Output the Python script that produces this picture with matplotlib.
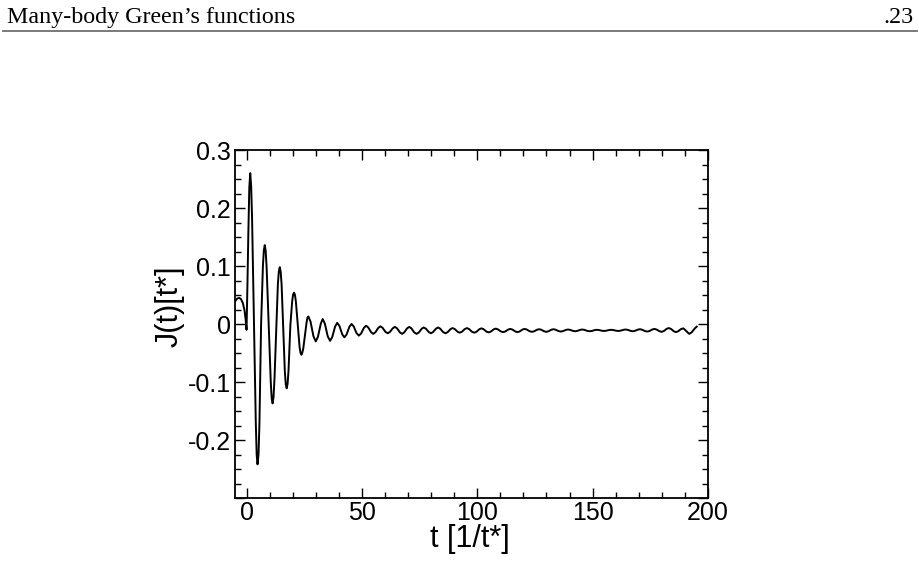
import matplotlib
matplotlib.use("Agg")
import matplotlib.pyplot as plt
from matplotlib.lines import Line2D
from matplotlib.ticker import MultipleLocator, FixedLocator, FixedFormatter

# ---- data ----
# switch-on region: t < 26 (read point by point)
t_early = [-4.8, -4.0, -3.2, -2.4, -1.6, -0.9, -0.4, 0.0,
           0.4, 0.8, 1.2, 1.6, 2.0, 2.4, 3.2, 4.0, 4.4, 4.76, 5.2, 5.6,
           6.3, 7.1, 7.5, 7.9, 8.3, 8.7, 9.6, 10.5, 10.9, 11.3, 11.7, 12.1,
           12.9, 13.6, 14.0, 14.4, 14.8, 15.2, 15.9, 16.6, 17.0, 17.4, 17.8, 18.2,
           19.0, 19.8, 20.2, 20.6, 21.0, 21.4, 22.2, 23.0, 23.4, 23.8, 24.2, 24.6,
           25.3, 26.0, 26.4]
j_early = [0.040, 0.044, 0.045, 0.043, 0.036, 0.024, 0.008, -0.010,
           0.070, 0.160, 0.235, 0.260, 0.238, 0.182, 0.008, -0.168, -0.226, -0.242, -0.225, -0.170,
           -0.002, 0.100, 0.127, 0.136, 0.126, 0.098, 0.000, -0.100, -0.128, -0.137, -0.126, -0.096,
           -0.005, 0.070, 0.091, 0.098, 0.090, 0.068, -0.006, -0.082, -0.104, -0.111, -0.103, -0.080,
           -0.002, 0.040, 0.051, 0.054, 0.050, 0.038, 0.000, -0.040, -0.050, -0.053, -0.049, -0.042,
           -0.020, 0.002, 0.011]

# decaying tail: extrema with the shoulder points between them
t_tail = [26.8, 27.74, 28.99, 30.0, 30.94, 32.19, 33.0, 33.94, 35.19, 36.2, 37.14, 38.39,
          39.3, 40.24, 41.49, 42.4, 43.34, 44.59, 45.5, 46.44, 47.69, 48.7, 49.64, 50.89,
          51.8, 52.74, 53.99, 54.9, 55.84, 57.09, 58.0, 58.94, 60.19, 61.2, 62.14, 63.39,
          64.3, 65.24, 66.49, 67.4, 68.34, 69.59, 70.5, 71.44, 72.69, 73.7, 74.64, 75.89,
          76.8, 77.74, 78.99, 79.9, 80.84, 82.09, 83.0, 83.94, 85.19, 86.2, 87.14, 88.39,
          89.3, 90.24, 91.49, 92.4, 93.34, 94.59, 95.5, 96.44, 97.69, 98.7, 99.64, 100.89,
          101.8, 102.74, 103.99, 104.9, 105.84, 107.09, 108.0, 108.94, 110.19, 111.2, 112.14, 113.39,
          114.3, 115.24, 116.49, 117.4, 118.34, 119.59, 120.5, 121.44, 122.69, 123.7, 124.64, 125.89,
          126.8, 127.74, 128.99, 129.9, 130.84, 132.09, 133.0, 133.94, 135.19, 136.2, 137.14, 138.39,
          139.3, 140.24, 141.49, 142.4, 143.34, 144.59, 145.5, 146.44, 147.69, 148.7, 149.64, 150.89,
          151.8, 152.74, 153.99, 154.9, 155.84, 157.09, 158.0, 158.94, 160.19, 161.2, 162.14, 163.39,
          164.3, 165.24, 166.49, 167.4, 168.34, 169.59, 170.5, 171.44, 172.69, 173.7, 174.64, 175.89,
          176.8, 177.74, 178.99, 179.9, 180.84, 182.09, 183.0, 183.94, 185.19, 186.1, 187.04, 188.29,
          189.3, 189.9, 191.3, 191.9, 192.9, 194.3, 195.1]
j_tail = [0.013, 0.0041, -0.0211, -0.030, -0.0221, 0.0006, 0.0085, 0.0007, -0.0213, -0.029, -0.0226, -0.0044,
          0.002, -0.0032, -0.0179, -0.023, -0.0183, -0.0047, 0.000, -0.0041, -0.0159, -0.020, -0.0165, -0.0065,
          -0.003, -0.0059, -0.0141, -0.017, -0.0143, -0.0067, -0.004, -0.0065, -0.0135, -0.016, -0.0137, -0.0073,
          -0.005, -0.0075, -0.0145, -0.017, -0.0145, -0.0075, -0.005, -0.0075, -0.0145, -0.017, -0.0147, -0.0083,
          -0.006, -0.0081, -0.0139, -0.016, -0.0139, -0.0081, -0.006, -0.0081, -0.0139, -0.016, -0.0141, -0.0089,
          -0.007, -0.0087, -0.0134, -0.015, -0.0134, -0.0087, -0.007, -0.0087, -0.0134, -0.015, -0.0135, -0.0090,
          -0.0075, -0.0090, -0.0131, -0.0145, -0.0132, -0.0093, -0.008, -0.0092, -0.0128, -0.014, -0.0129, -0.0096,
          -0.0085, -0.0096, -0.0129, -0.014, -0.0129, -0.0096, -0.0085, -0.0095, -0.0125, -0.0135, -0.0126, -0.0099,
          -0.009, -0.0099, -0.0126, -0.0135, -0.0126, -0.0099, -0.009, -0.0098, -0.0122, -0.013, -0.0123, -0.0102,
          -0.0095, -0.0101, -0.0119, -0.0125, -0.0119, -0.0101, -0.0095, -0.0101, -0.0119, -0.0125, -0.0120, -0.0105,
          -0.010, -0.0104, -0.0116, -0.012, -0.0116, -0.0104, -0.010, -0.0104, -0.0116, -0.012, -0.0115, -0.0100,
          -0.0095, -0.0101, -0.0119, -0.0125, -0.0118, -0.0097, -0.009, -0.0098, -0.0122, -0.013, -0.0121, -0.0094,
          -0.0085, -0.0096, -0.0125, -0.0135, -0.0122, -0.0083, -0.007, -0.0084, -0.0126, -0.014, -0.0126, -0.0088,
          -0.0075, -0.0095, -0.0150, -0.017, -0.0145, -0.0075, -0.0046]

x_ticks = [0, 50, 100, 150, 200]
x_labels = ["0", "50", "100", "150", "200"]
y_ticks = [-0.3, -0.2, -0.1, 0.0, 0.1, 0.2, 0.3]
y_labels = ["", "-0.2", "-0.1", "0", "0.1", "0.2", "0.3"]

t_all = t_early + t_tail
j_all = j_early + j_tail

plt.rcParams['font.family'] = ['Liberation Sans', 'DejaVu Sans']

fig = plt.figure(figsize=(9.2, 5.62), dpi=100)

# page header
serif = ['Liberation Serif', 'DejaVu Serif']
fig.text(7/920, 1 - 23/562, "Many-body Green\u2019s functions", family=serif,
         fontsize=17.3, va='baseline', ha='left')
fig.text(914/920, 1 - 23/562, ".23", family=serif,
         fontsize=17.3, va='baseline', ha='right')
fig.add_artist(Line2D([3/920, 917/920], [1 - 31/562, 1 - 31/562], color='#707070', lw=1.3,
                      transform=fig.transFigure))

ax = fig.add_axes([235/920, 1 - 498/562, (708 - 235)/920, (498 - 150)/562])
ax.plot(t_all, j_all, color='black', lw=1.4, solid_joinstyle='round')

ax.set_xlim(-5, 200)
ax.set_ylim(-0.3, 0.3)
ax.xaxis.set_major_locator(FixedLocator(x_ticks))
ax.xaxis.set_major_formatter(FixedFormatter(x_labels))
ax.xaxis.set_minor_locator(MultipleLocator(10))
ax.yaxis.set_major_locator(FixedLocator(y_ticks))
ax.yaxis.set_major_formatter(FixedFormatter(y_labels))
ax.yaxis.set_minor_locator(MultipleLocator(0.025))

ax.tick_params(which='both', direction='in', top=True, right=True, width=1.0, color='black')
ax.tick_params(which='major', length=7, labelsize=18, pad=3)
ax.tick_params(axis='x', which='major', pad=2)
ax.tick_params(which='minor', length=4)
for s in ax.spines.values():
    s.set_linewidth(1.3)

ax.set_xlabel("t [1/t*]", fontsize=22)
ax.set_ylabel("J(t)[t*]", fontsize=22)
ax.xaxis.set_label_coords(0.497, -0.076)
ax.yaxis.set_label_coords(-0.107, 0.55)

fig.savefig("out.png", dpi=100)
